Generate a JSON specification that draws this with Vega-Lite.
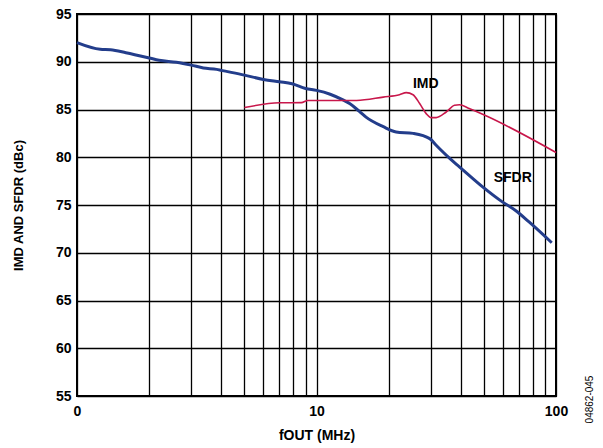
{
  "$schema": "https://vega.github.io/schema/vega-lite/v6.json",
  "width": 479,
  "height": 382,
  "autosize": {"type": "none"},
  "padding": {"left": 77, "top": 14, "right": 47, "bottom": 52},
  "config": {
    "font": "Liberation Sans",
    "view": {"stroke": "#000000", "strokeWidth": 2},
    "axis": {"gridColor": "#000000", "gridOpacity": 1, "gridWidth": 1.3, "domain": false, "ticks": false,
      "labelFont": "Liberation Sans", "labelFontWeight": "bold", "labelFontSize": 14, "labelColor": "#000000",
      "titleFont": "Liberation Sans", "titleFontWeight": "bold", "titleFontSize": 13, "titleColor": "#000000"}
  },
  "datasets": {
    "curves": [
      {"f": 1.0, "v": 92.0, "s": "SFDR"},
      {"f": 1.25, "v": 91.3, "s": "SFDR"},
      {"f": 1.38, "v": 91.25, "s": "SFDR"},
      {"f": 1.6, "v": 90.95, "s": "SFDR"},
      {"f": 2.0, "v": 90.4, "s": "SFDR"},
      {"f": 2.2, "v": 90.15, "s": "SFDR"},
      {"f": 2.6, "v": 89.95, "s": "SFDR"},
      {"f": 3.0, "v": 89.65, "s": "SFDR"},
      {"f": 3.37, "v": 89.35, "s": "SFDR"},
      {"f": 3.83, "v": 89.2, "s": "SFDR"},
      {"f": 4.0, "v": 89.1, "s": "SFDR"},
      {"f": 5.0, "v": 88.6, "s": "SFDR"},
      {"f": 6.0, "v": 88.15, "s": "SFDR"},
      {"f": 7.0, "v": 87.9, "s": "SFDR"},
      {"f": 7.9, "v": 87.7, "s": "SFDR"},
      {"f": 9.0, "v": 87.2, "s": "SFDR"},
      {"f": 10.0, "v": 87.0, "s": "SFDR"},
      {"f": 11.4, "v": 86.6, "s": "SFDR"},
      {"f": 12.9, "v": 86.0, "s": "SFDR"},
      {"f": 13.8, "v": 85.6, "s": "SFDR"},
      {"f": 15.1, "v": 84.8, "s": "SFDR"},
      {"f": 16.1, "v": 84.2, "s": "SFDR"},
      {"f": 19.0, "v": 83.2, "s": "SFDR"},
      {"f": 21.5, "v": 82.65, "s": "SFDR"},
      {"f": 25.3, "v": 82.5, "s": "SFDR"},
      {"f": 29.7, "v": 81.95, "s": "SFDR"},
      {"f": 31.6, "v": 81.25, "s": "SFDR"},
      {"f": 35.9, "v": 79.9, "s": "SFDR"},
      {"f": 39.5, "v": 79.0, "s": "SFDR"},
      {"f": 49.4, "v": 76.9, "s": "SFDR"},
      {"f": 59.9, "v": 75.3, "s": "SFDR"},
      {"f": 68.0, "v": 74.4, "s": "SFDR"},
      {"f": 77.4, "v": 73.2, "s": "SFDR"},
      {"f": 96.0, "v": 71.05, "s": "SFDR"},
      {"f": 5.0, "v": 85.2, "s": "IMD"},
      {"f": 7.0, "v": 85.7, "s": "IMD"},
      {"f": 8.65, "v": 85.72, "s": "IMD"},
      {"f": 9.2, "v": 85.95, "s": "IMD"},
      {"f": 14.7, "v": 85.95, "s": "IMD"},
      {"f": 19.0, "v": 86.3, "s": "IMD"},
      {"f": 22.2, "v": 86.55, "s": "IMD"},
      {"f": 23.7, "v": 86.77, "s": "IMD"},
      {"f": 25.3, "v": 86.55, "s": "IMD"},
      {"f": 27.0, "v": 85.6, "s": "IMD"},
      {"f": 28.7, "v": 84.57, "s": "IMD"},
      {"f": 30.1, "v": 84.15, "s": "IMD"},
      {"f": 31.6, "v": 84.15, "s": "IMD"},
      {"f": 34.8, "v": 84.74, "s": "IMD"},
      {"f": 37.7, "v": 85.44, "s": "IMD"},
      {"f": 39.5, "v": 85.5, "s": "IMD"},
      {"f": 43.4, "v": 85.1, "s": "IMD"},
      {"f": 49.4, "v": 84.5, "s": "IMD"},
      {"f": 100.0, "v": 80.5, "s": "IMD"}
    ],
    "labels": [
      {"f": 28.6, "v": 87.7, "t": "IMD"},
      {"f": 66.0, "v": 77.8, "t": "SFDR"}
    ]
  },
  "resolve": {"axis": {"y": "independent"}},
  "layer": [
    {
      "data": {"name": "curves"},
      "transform": [{"filter": "datum.s == 'SFDR'"}],
      "mark": {"type": "line", "strokeWidth": 3, "color": "#233d8b", "interpolate": "monotone"},
      "encoding": {
        "x": {"field": "f", "type": "quantitative",
          "scale": {"type": "log", "domain": [1, 100], "nice": false},
          "axis": {"values": [1,2,3,4,5,6,7,8,9,10,20,30,40,50,60,70,80,90,100],
            "labelExpr": "datum.value == 1 ? '0' : (datum.value == 10 ? '10' : (datum.value == 100 ? '100' : ''))",
            "labelFlush": false, "labelOverlap": false,
            "labelPadding": 8, "title": "fOUT (MHz)", "titleFontSize": 14, "titlePadding": 10}},
        "y": {"field": "v", "type": "quantitative",
          "scale": {"domain": [55, 95], "nice": false, "zero": false},
          "axis": {"values": [55,60,65,70,75,80,85,90,95], "labelPadding": 6,
            "title": "IMD AND SFDR (dBc)", "titlePadding": 30}}
      }
    },
    {
      "data": {"name": "curves"},
      "transform": [{"filter": "datum.s == 'IMD'"}],
      "mark": {"type": "line", "strokeWidth": 1.6, "color": "#c8174b", "interpolate": "monotone"},
      "encoding": {
        "x": {"field": "f", "type": "quantitative"},
        "y": {"field": "v", "type": "quantitative", "axis": null}
      }
    },
    {
      "data": {"name": "labels"},
      "mark": {"type": "text", "font": "Liberation Sans", "fontWeight": "bold", "fontSize": 14, "color": "#000000", "align": "center", "baseline": "middle"},
      "encoding": {
        "x": {"field": "f", "type": "quantitative"},
        "y": {"field": "v", "type": "quantitative",
          "axis": {"orient": "right", "grid": false, "labels": false, "title": "04862-045",
            "titleFontWeight": "normal", "titleFontSize": 10, "titleAngle": 270,
            "titleX": 33, "titleY": 385, "titleAlign": "center", "titleBaseline": "middle"}},
        "text": {"field": "t"}
      }
    }
  ]
}
